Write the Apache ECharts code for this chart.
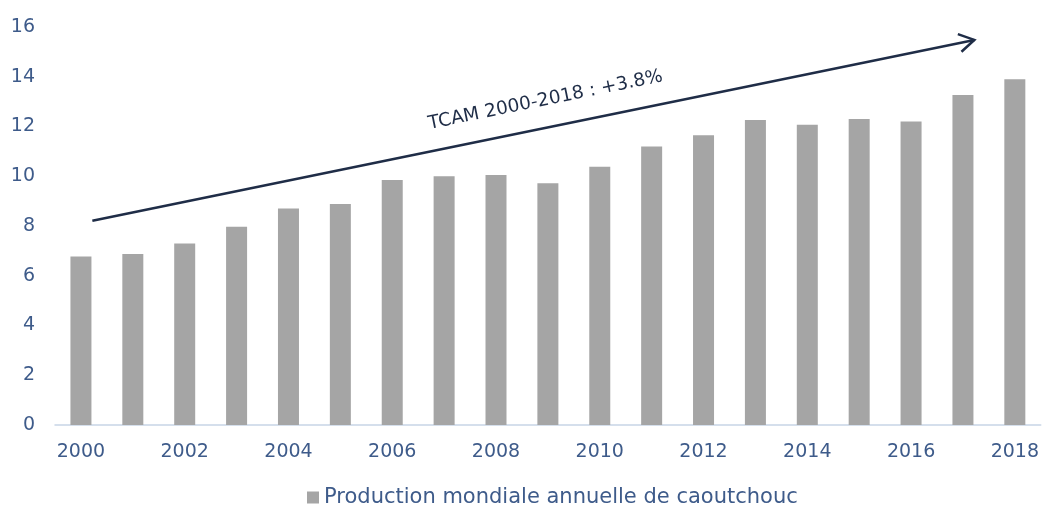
<!DOCTYPE html>
<html>
<head>
<meta charset="utf-8">
<title>Production mondiale de caoutchouc</title>
<script src="https://cdn.jsdelivr.net/npm/echarts@6/dist/echarts.min.js"></script>
<style>
    html, body { margin: 0; padding: 0; background: #fff; }
    #chart { width: 1042px; height: 506px; }
</style>
</head>
<body>
<div id="chart"></div>
<script>
// données
var years = ['2000', '2001', '2002', '2003', '2004', '2005', '2006', '2007', '2008', '2009',
             '2010', '2011', '2012', '2013', '2014', '2015', '2016', '2017', '2018'];
var production = [6.77, 6.87, 7.30, 7.97, 8.70, 8.88, 9.85, 10.0, 10.05, 9.72,
                  10.38, 11.2, 11.65, 12.26, 12.07, 12.3, 12.2, 13.27, 13.9];
var seriesName = 'Production mondiale annuelle de caoutchouc';
var trendLabel = 'TCAM 2000-2018 : +3.8%';
// flèche de tendance : [index catégorie, valeur]
var trendStart = [0.22, 8.21];
var trendEnd = [17.22, 15.48];

var labelColor = '#3e5b8a';
var arrowColor = '#1f2d47';
var font = 'DejaVu Sans, Arial, sans-serif';

var chart = echarts.init(document.getElementById('chart'));

chart.setOption({
    animation: false,
    grid: { left: 55, right: 1, top: 27, bottom: 81 },
    legend: {
        data: [seriesName],
        top: 482,
        left: 302,
        icon: 'rect',
        itemWidth: 12,
        itemHeight: 12,
        itemGap: 6,
        textStyle: { color: labelColor, fontSize: 21, fontFamily: font }
    },
    xAxis: {
        type: 'category',
        data: years,
        axisLine: { lineStyle: { color: '#c8d5e6', width: 1.5 } },
        axisTick: { show: false },
        axisLabel: {
            interval: 1,
            margin: 18,
            color: labelColor,
            fontSize: 19,
            fontFamily: font
        }
    },
    yAxis: {
        type: 'value',
        min: 0,
        max: 16,
        interval: 2,
        splitLine: { show: false },
        axisLine: { show: false },
        axisTick: { show: false },
        axisLabel: {
            margin: 20,
            color: labelColor,
            fontSize: 19,
            fontFamily: font
        }
    },
    series: [{
        name: seriesName,
        type: 'bar',
        barWidth: 21,
        itemStyle: { color: '#a5a5a5' },
        data: production
    }]
});

// position en pixels d'un point [index fractionnaire, valeur]
function toPixel(pt) {
    var i = Math.floor(pt[0]);
    var f = pt[0] - i;
    var a = chart.convertToPixel({ gridIndex: 0 }, [i, pt[1]]);
    var b = chart.convertToPixel({ gridIndex: 0 }, [i + 1, pt[1]]);
    return [a[0] + f * (b[0] - a[0]), a[1]];
}

function drawTrend() {
    var p0 = toPixel(trendStart);
    var p1 = toPixel(trendEnd);
    var dx = p1[0] - p0[0], dy = p1[1] - p0[1];
    var len = Math.sqrt(dx * dx + dy * dy);
    var ux = dx / len, uy = dy / len;   // direction
    var nx = -uy, ny = ux;              // perpendiculaire
    var headLen = 15, headW = 9;
    var headA = [p1[0] - ux * headLen + nx * headW, p1[1] - uy * headLen + ny * headW];
    var headB = [p1[0] - ux * headLen - nx * headW, p1[1] - uy * headLen - ny * headW];
    // texte au-dessus de la flèche
    var t = 0.52, off = 27;
    var tc = [p0[0] + dx * t - nx * off, p0[1] + dy * t - ny * off];
    var angle = Math.atan2(-dy, dx);

    chart.setOption({
        graphic: [
            {
                type: 'line',
                shape: { x1: p0[0], y1: p0[1], x2: p1[0], y2: p1[1] },
                style: { stroke: arrowColor, lineWidth: 2.5 },
                z: 10
            },
            {
                type: 'polyline',
                shape: { points: [headA, p1, headB] },
                style: { stroke: arrowColor, lineWidth: 2.5, fill: null },
                z: 10
            },
            {
                type: 'text',
                x: tc[0],
                y: tc[1],
                rotation: angle,
                style: {
                    text: trendLabel,
                    fill: arrowColor,
                    font: '18.5px ' + font,
                    align: 'center',
                    verticalAlign: 'middle'
                },
                z: 10
            }
        ]
    });
}

drawTrend();
window.addEventListener('resize', function () {
    chart.resize();
    drawTrend();
});
</script>
</body>
</html>
